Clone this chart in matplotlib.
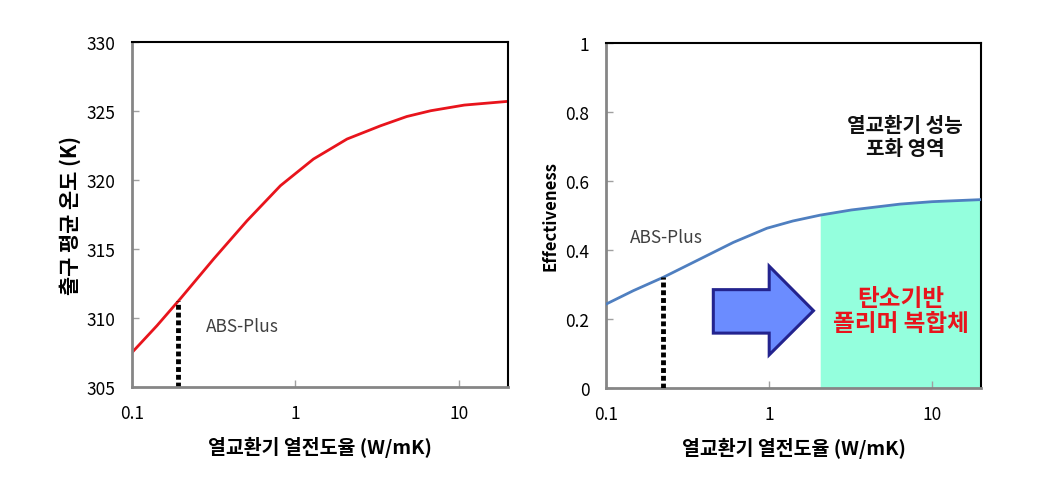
import matplotlib
matplotlib.use("Agg")
import matplotlib.pyplot as plt
from matplotlib.patches import Polygon
import numpy as np

plt.rcParams["font.family"] = ["Noto Sans CJK KR", "DejaVu Sans"]

# ---------------------------------------------------------------------------
# Data
# ---------------------------------------------------------------------------
k_left = [0.1, 0.142, 0.197, 0.316, 0.506, 0.81, 1.29, 2.07, 3.32, 4.8, 6.73, 10.8, 20.0]
t_out = [307.5, 309.44, 311.38, 314.28, 317.05, 319.59, 321.52, 322.97, 323.93, 324.6, 325.02, 325.43, 325.7]

k_right = [0.1, 0.147, 0.225, 0.378, 0.604, 0.97, 1.4, 2.06, 3.2, 6.37, 10.0, 20.0]
eff = [0.243, 0.282, 0.321, 0.374, 0.422, 0.463, 0.484, 0.501, 0.516, 0.533, 0.540, 0.546]

abs_k_left, abs_t = 0.19, 311.2
abs_k_right, abs_eff = 0.225, 0.321
carbon_k_min = 2.06

x_ticks = [0.1, 1, 10]
x_ticklabels = ["0.1", "1", "10"]
left_yticks = [305, 310, 315, 320, 325, 330]
right_yticks = [0, 0.2, 0.4, 0.6, 0.8, 1]
right_yticklabels = ["0", "0.2", "0.4", "0.6", "0.8", "1"]

XLABEL = "열교환기 열전도율 (W/mK)"


def style_axes(ax):
    ax.set_xscale("log")
    ax.set_xlim(0.1, 20)
    ax.set_xticks(x_ticks)
    ax.set_xticklabels(x_ticklabels)
    ax.minorticks_off()
    ax.tick_params(axis="both", direction="in", length=5, width=1,
                   color="#a0a0a0", labelsize=12.5, labelcolor="#000000")
    ax.tick_params(axis="x", pad=12)
    ax.tick_params(axis="y", pad=12)
    for side in ("left", "bottom"):
        ax.spines[side].set_color("#868686")
        ax.spines[side].set_linewidth(2.0)
    for side in ("top", "right"):
        ax.spines[side].set_color("#000000")
        ax.spines[side].set_linewidth(1.5)
    ax.set_xlabel(XLABEL, fontsize=14, fontweight="bold", labelpad=10)


fig = plt.figure(figsize=(10.42, 4.85), dpi=100)

# ── Left: outlet mean temperature ──
ax1 = fig.add_axes([0.1267, 0.200, 0.3608, 0.7113])
ax1.plot(k_left, t_out, color="#e8141c", linewidth=2.0)
ax1.plot([abs_k_left, abs_k_left], [305, abs_t], color="black",
         linewidth=3.5, linestyle=(0, (1, 0.6)))
ax1.text(0.285, 309.4, "ABS-Plus", fontsize=12.5, color="#404040", va="center", ha="left")
ax1.set_ylim(305, 330)
ax1.set_yticks(left_yticks)
style_axes(ax1)
ax1.set_ylabel("출구 평균 온도 (K)", fontsize=15, fontweight="bold", labelpad=4)

# ── Right: effectiveness ──
ax2 = fig.add_axes([0.5816, 0.198, 0.3600, 0.7113])
k_arr = np.array(k_right)
e_arr = np.array(eff)
mask = k_arr >= carbon_k_min
ax2.fill_between(k_arr[mask], 0, e_arr[mask], color="#94ffdd", linewidth=0, zorder=1)
ax2.plot(k_right, eff, color="#4f7fc0", linewidth=2.0, zorder=3)
ax2.plot([abs_k_right, abs_k_right], [0, abs_eff], color="black",
         linewidth=3.5, linestyle=(0, (1, 0.6)), zorder=3)
ax2.text(0.14, 0.437, "ABS-Plus", fontsize=12.5, color="#404040", va="center", ha="left")
ax2.set_ylim(0, 1)
ax2.set_yticks(right_yticks)
ax2.set_yticklabels(right_yticklabels)
style_axes(ax2)
ax2.set_ylabel("Effectiveness", fontsize=12, fontweight="bold", labelpad=4)

# block arrow, in axes fraction
arrow_xy = [(0.286, 0.285), (0.435, 0.285), (0.435, 0.353), (0.553, 0.224),
            (0.435, 0.096), (0.435, 0.159), (0.286, 0.159)]
ax2.add_patch(Polygon(arrow_xy, closed=True, transform=ax2.transAxes,
                      facecolor="#6b8cff", edgecolor="#23238e", linewidth=2.2, zorder=4))

ax2.text(0.797, 0.73, "열교환기 성능\n포화 영역", transform=ax2.transAxes,
         fontsize=14.5, fontweight="bold", color="#111111", ha="center", va="center",
         linespacing=1.1)
ax2.text(0.785, 0.224, "탄소기반\n폴리머 복합체", transform=ax2.transAxes,
         fontsize=17, fontweight="bold", color="#e8141c", ha="center", va="center",
         linespacing=1.05, zorder=5)

fig.savefig("out.png", dpi=100)
